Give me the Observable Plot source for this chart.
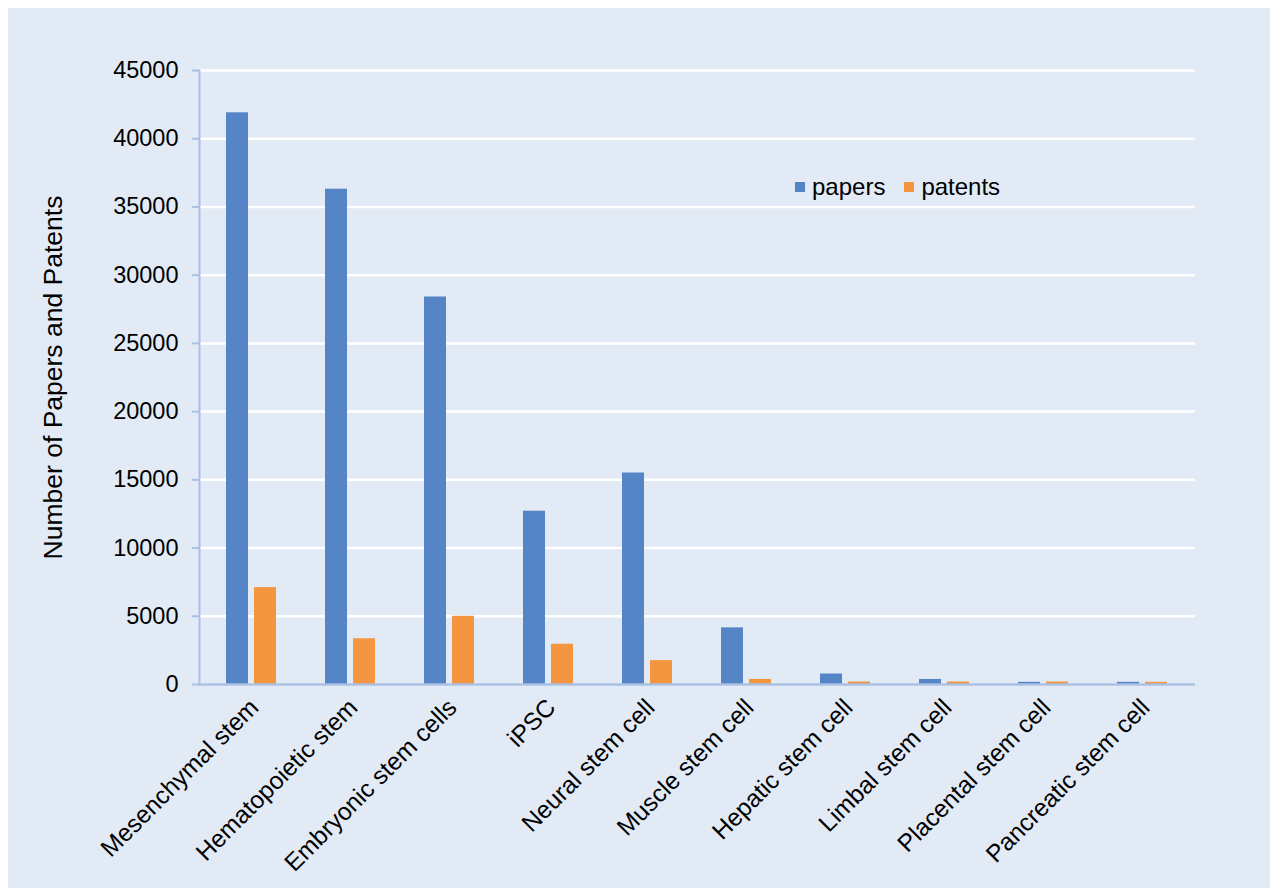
<!DOCTYPE html>
<html>
<head>
<meta charset="utf-8">
<script src="https://cdn.jsdelivr.net/npm/d3@7"></script>
<script src="https://cdn.jsdelivr.net/npm/@observablehq/plot@0.6"></script>
<style>
  html, body { margin: 0; padding: 0; background: #ffffff; }
  #wrap { position: relative; width: 1270px; height: 888px; overflow: hidden; }
  #chart { position: absolute; left: 8px; top: 8px; }
  #chart svg { display: block; }
  #legend {
    position: absolute; left: 795px; top: 173px;
    font-family: "Liberation Sans", Arial, sans-serif; font-size: 24px; color: #000;
    display: flex; align-items: center; gap: 19px;
  }
  #legend .item { display: flex; align-items: center; gap: 7px; }
  #legend .sw { width: 10px; height: 10px; display: inline-block; }
</style>
</head>
<body>
<div id="wrap">
  <div id="chart"></div>
  <div id="legend"></div>
</div>
<script>
// Stem cell types
const categories = [
  "Mesenchymal stem", "Hematopoietic stem", "Embryonic stem cells", "iPSC",
  "Neural stem cell", "Muscle stem cell", "Hepatic stem cell", "Limbal stem cell",
  "Placental stem cell", "Pancreatic stem cell"
];
// Counts per type
const papers  = [41900, 36300, 28400, 12700, 15500, 4150, 770, 370, 160, 160];
const patents = [7100, 3350, 5000, 2950, 1750, 370, 180, 180, 180, 160];
const seriesNames = ["papers", "patents"];
const seriesColors = ["#5585c6", "#f4953f"];
const yTicks = [0, 5000, 10000, 15000, 20000, 25000, 30000, 35000, 40000, 45000];
const yLabel = "Number of Papers and Patents";

const rows = categories.map((c, i) => ({category: c, papers: papers[i], patents: patents[i]}));

const axisColor = "#a9c0e3";
const font = "'Liberation Sans', Arial, sans-serif";

const chart = Plot.plot({
  width: 1262,
  height: 880,
  marginLeft: 191,
  marginRight: 75,
  marginTop: 62,
  marginBottom: 204,
  style: {background: "#e2eaf6", fontFamily: font, color: "#000", overflow: "visible"},
  x: {domain: categories, paddingInner: 0.49, paddingOuter: 0.245},
  y: {domain: [0, 45000]},
  marks: [
    Plot.gridY(yTicks, {stroke: "#ffffff", strokeOpacity: 1, strokeWidth: 2.5}),
    Plot.barY(rows, {x: "category", y: "papers", fill: seriesColors[0], insetRight: 28}),
    Plot.barY(rows, {x: "category", y: "patents", fill: seriesColors[1], insetLeft: 28}),
    Plot.frame({anchor: "left", stroke: axisColor, strokeWidth: 2}),
    Plot.ruleY([0], {stroke: axisColor, strokeWidth: 2.5}),
    Plot.axisY(yTicks, {
      tickSize: 7, tickPadding: 14, stroke: axisColor, strokeWidth: 2, fill: "#000",
      fontSize: 23.5, tickFormat: d => String(d), label: null
    }),
    Plot.text([yLabel], {
      frameAnchor: "left", textAnchor: "middle", rotate: -90, dx: -146,
      fontSize: 26.5, fill: "#000"
    }),
    Plot.axisX({
      tickSize: 0, tickRotate: -45, tickPadding: 19, dx: 3, fontSize: 24.5, fill: "#000", label: null
    })
  ]
});
document.getElementById("chart").appendChild(chart);

// Legend
const legend = document.getElementById("legend");
seriesNames.forEach((name, i) => {
  const item = document.createElement("span");
  item.className = "item";
  const sw = document.createElement("span");
  sw.className = "sw";
  sw.style.background = seriesColors[i];
  const label = document.createElement("span");
  label.textContent = name;
  item.append(sw, label);
  legend.appendChild(item);
});
</script>
</body>
</html>
